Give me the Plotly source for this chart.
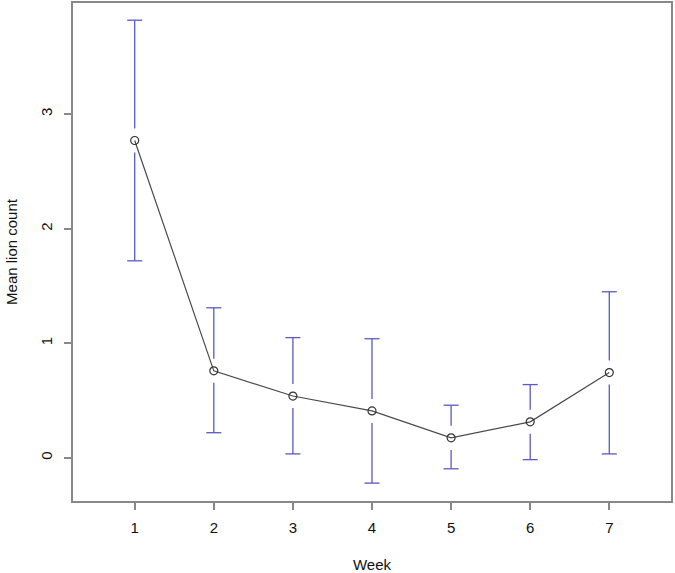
import plotly.graph_objects as go

weeks = [1, 2, 3, 4, 5, 6, 7]
mean_count = [2.77, 0.76, 0.54, 0.41, 0.175, 0.315, 0.745]
upper_ci = [3.82, 1.31, 1.05, 1.04, 0.46, 0.64, 1.45]
lower_ci = [1.72, 0.22, 0.035, -0.22, -0.095, -0.015, 0.035]

BAR_COLOR = "#5a5abf"
AXIS_COLOR = "#888888"
GAP = 0.105      # gap left around each point (data units), like plotCI
CAP = 0.095      # half width of the caps (data units)

fig = go.Figure()

# error bar stems (with a gap round the point) and caps
bx, by = [], []
for w, m, hi, lo in zip(weeks, mean_count, upper_ci, lower_ci):
    bx += [w, w, None, w, w, None]
    by += [m + GAP, hi, None, m - GAP, lo, None]
    bx += [w - CAP, w + CAP, None, w - CAP, w + CAP, None]
    by += [hi, hi, None, lo, lo, None]

fig.add_trace(go.Scatter(x=bx, y=by, mode="lines",
                         line=dict(color=BAR_COLOR, width=1.3),
                         hoverinfo="skip", showlegend=False))

fig.add_trace(go.Scatter(x=weeks, y=mean_count, mode="lines+markers",
                         line=dict(color="#4a4a4a", width=1.2),
                         marker=dict(symbol="circle-open", size=8,
                                     color="#333333", line=dict(width=1.2)),
                         showlegend=False))

fig.update_xaxes(range=[0.22, 7.78], tickvals=weeks, showgrid=False,
                 zeroline=False, showline=True, mirror=True, automargin=False,
                 linecolor=AXIS_COLOR, linewidth=2,
                 ticks="outside", ticklen=7, tickwidth=2, tickcolor=AXIS_COLOR,
                 ticklabelstandoff=5,
                 tickfont=dict(size=15, color="#111111"),
                 title=dict(text="Week", font=dict(size=15, color="#111111"),
                            standoff=27))
fig.update_yaxes(range=[-0.376, 3.97], tickvals=[0, 1, 2, 3], tickangle=-90,
                 showgrid=False, zeroline=False, showline=True, mirror=True,
                 automargin=False,
                 linecolor=AXIS_COLOR, linewidth=2,
                 ticks="outside", ticklen=7, tickwidth=2, tickcolor=AXIS_COLOR,
                 ticklabelstandoff=6,
                 tickfont=dict(size=15, color="#111111"),
                 title=dict(text="Mean lion count",
                            font=dict(size=15, color="#111111"), standoff=17))

fig.update_layout(width=675, height=573,
                  font_family="Liberation Sans, Arial",
                  paper_bgcolor="white", plot_bgcolor="white",
                  margin=dict(l=73, r=4, t=3, b=72))

# drop the page's default body margin so the figure sits at the window corner
fig.write_html("out.html", config={"displayModeBar": False},
               post_script="document.body.style.margin = '0';")
